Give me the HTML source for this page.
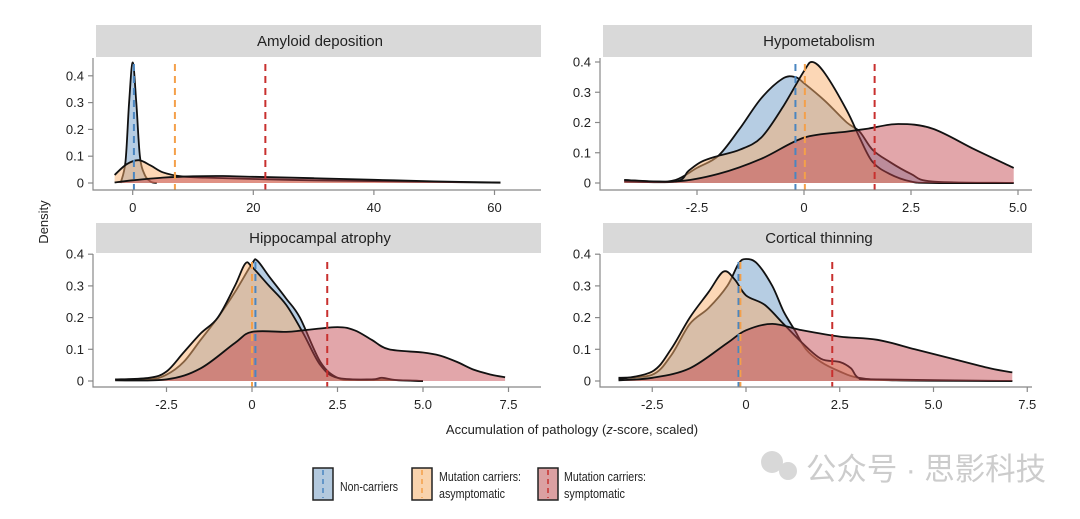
<!DOCTYPE html>
<html><head><meta charset="utf-8"><style>
body{margin:0;background:#fff;width:1080px;height:514px;overflow:hidden;font-family:"Liberation Sans","Noto Sans CJK SC",sans-serif}
svg text{font-family:"Liberation Sans","Noto Sans CJK SC",sans-serif}
</style></head><body>
<svg id="chart" width="1080" height="514" xmlns="http://www.w3.org/2000/svg">
<text x="48" y="222" font-size="13" fill="#222" text-anchor="middle" transform="rotate(-90 48 222)">Density</text>
<text x="572" y="434" font-size="13" fill="#222" text-anchor="middle">Accumulation of pathology (<tspan font-style="italic">z</tspan>-score, scaled)</text>
<g>
<g><rect x="313" y="468" width="20" height="32" fill="#b3c9de" stroke="#222" stroke-width="1.5"/><line x1="323" y1="470" x2="323" y2="498" stroke="#4a86c0" stroke-width="1.5" stroke-dasharray="5,4"/><text x="340" y="491" font-size="13" fill="#222" textLength="58" lengthAdjust="spacingAndGlyphs">Non-carriers</text></g>
<g><rect x="412" y="468" width="20" height="32" fill="#f9d3ad" stroke="#222" stroke-width="1.5"/><line x1="422" y1="470" x2="422" y2="498" stroke="#f4a04a" stroke-width="1.5" stroke-dasharray="5,4"/><text x="439" y="481" font-size="13" fill="#222" textLength="82" lengthAdjust="spacingAndGlyphs">Mutation carriers:</text><text x="439" y="498" font-size="13" fill="#222" textLength="66" lengthAdjust="spacingAndGlyphs">asymptomatic</text></g>
<g><rect x="538" y="468" width="20" height="32" fill="#dba0a2" stroke="#222" stroke-width="1.5"/><line x1="548" y1="470" x2="548" y2="498" stroke="#c8302e" stroke-width="1.5" stroke-dasharray="5,4"/><text x="564" y="481" font-size="13" fill="#222" textLength="82" lengthAdjust="spacingAndGlyphs">Mutation carriers:</text><text x="564" y="498" font-size="13" fill="#222" textLength="61" lengthAdjust="spacingAndGlyphs">symptomatic</text></g>
</g>
<g opacity="0.75">
<circle cx="772" cy="462" r="11" fill="#ccc"/><circle cx="788" cy="471" r="9" fill="#ccc"/>
<text x="806" y="480" font-size="31" fill="#bbb" textLength="240" lengthAdjust="spacingAndGlyphs">公众号 · 思影科技</text>
</g>
<g id="panels"></g>
</svg>
<script>
// ---------- data ----------
const amyX_non=[-2,-1.2,-0.6,0,0.6,1.2,2,3,4];
const amyY_non=[0,0.08,0.3,0.45,0.3,0.1,0.03,0.005,0];
const amyX_asy=[-3,-1,1,3,5,8,12,20,30,40,50,61];
const amyY_asy=[0.03,0.07,0.085,0.065,0.04,0.025,0.02,0.015,0.01,0.007,0.004,0.001];
const amyX_sym=[-3,0,5,10,15,20,30,40,50,61];
const amyY_sym=[0.002,0.01,0.02,0.025,0.026,0.023,0.018,0.012,0.006,0.002];
const amyMeans=[0.2,7,22];

const hypX_non=[-4.2,-3.5,-3,-2.5,-2,-1.5,-1,-0.5,-0.2,0,0.5,1,1.3,1.6,2,2.5,3,4.9];
const hypY_non=[0.01,0.005,0.01,0.05,0.09,0.18,0.28,0.345,0.35,0.33,0.27,0.2,0.17,0.11,0.07,0.03,0.005,0];
const hypX_asy=[-4.2,-3,-2.7,-2.4,-2,-1.5,-1,-0.5,0,0.2,0.5,1,1.3,1.6,2,2.5,3,4.9];
const hypY_asy=[0.005,0.005,0.04,0.07,0.09,0.11,0.15,0.25,0.37,0.4,0.36,0.24,0.15,0.07,0.03,0.005,0,0];
const hypX_sym=[-4.2,-3,-2,-1,0,1,1.5,2.2,3,4,4.9];
const hypY_sym=[0.01,0.005,0.03,0.08,0.15,0.17,0.18,0.195,0.18,0.11,0.05];
const hypMeans=[-0.2,0.02,1.65];

const hipX_non=[-4,-3,-2.5,-2,-1.5,-1,-0.5,0,0.15,0.5,1,1.4,2,2.5,3,4,5];
const hipY_non=[0.005,0.005,0.02,0.06,0.13,0.2,0.28,0.37,0.38,0.33,0.26,0.2,0.06,0.01,0.003,0.003,0];
const hipX_asy=[-4,-3,-2.5,-2,-1.5,-1,-0.5,-0.2,0,0.5,1,1.5,2,2.5,3.5,3.8,4.2,5];
const hipY_asy=[0.005,0.01,0.03,0.09,0.15,0.2,0.3,0.37,0.36,0.3,0.24,0.15,0.05,0.01,0.005,0.01,0.003,0];
const hipX_sym=[-4,-2.5,-1.5,-0.5,0,1,1.5,2.5,3,3.5,4,5,5.5,6,6.5,7,7.4];
const hipY_sym=[0.002,0.005,0.04,0.12,0.155,0.155,0.16,0.17,0.16,0.13,0.1,0.09,0.08,0.06,0.035,0.02,0.012];
const hipMeans=[0.1,0.0,2.2];

const corX_non=[-3.4,-2.5,-2,-1.5,-1,-0.5,-0.2,0,0.3,0.7,1,1.3,1.6,2,2.5,3,4,7.1];
const corY_non=[0.01,0.02,0.08,0.18,0.23,0.3,0.37,0.385,0.37,0.3,0.22,0.16,0.1,0.06,0.03,0.01,0.002,0];
const corX_asy=[-3.4,-2.5,-2,-1.5,-1,-0.6,-0.3,0,0.5,1,1.5,2,2.5,2.8,3,3.5,7.1];
const corY_asy=[0.005,0.03,0.1,0.2,0.28,0.345,0.32,0.27,0.24,0.18,0.12,0.07,0.06,0.04,0.01,0.005,0];
const corX_sym=[-3.4,-2.5,-1.5,-0.5,0,0.7,1.5,2.5,3.5,4.5,5.5,6.5,7.1];
const corY_sym=[0.002,0.01,0.04,0.12,0.16,0.18,0.16,0.14,0.13,0.1,0.07,0.04,0.027];
const corMeans=[-0.2,-0.15,2.3];

const amyTicksX=[0,20,40,60], hypTicksX=[-2.5,0,2.5,5.0], hipTicksX=[-2.5,0,2.5,5.0,7.5], corTicksX=[-2.5,0,2.5,5.0,7.5];
const amyTicksY=[0,0.1,0.2,0.3,0.4], hypTicksY=[0,0.1,0.2,0.3,0.4], hipTicksY=[0,0.1,0.2,0.3,0.4], corTicksY=[0,0.1,0.2,0.3,0.4];
const titles=["Amyloid deposition","Hypometabolism","Hippocampal atrophy","Cortical thinning"];

// ---------- layout ----------
const NS="http://www.w3.org/2000/svg";
const panels=[
 {key:"amyloid",t:titles[0],L:93,R:541,hT:25,hB:57,axY:190,y0:183,yPer:26.8,x0v:0,x0p:132.7,xPer:6.03,
  series:[[amyX_non,amyY_non],[amyX_asy,amyY_asy],[amyX_sym,amyY_sym]],means:amyMeans,tx:amyTicksX,ty:amyTicksY,dec:0,meanTop:64},
 {key:"hypometabolism",t:titles[1],L:600,R:1032,hT:25,hB:57,axY:190,y0:183,yPer:30.25,x0v:0,x0p:804,xPer:42.8,
  series:[[hypX_non,hypY_non],[hypX_asy,hypY_asy],[hypX_sym,hypY_sym]],means:hypMeans,tx:hypTicksX,ty:hypTicksY,dec:1,meanTop:64},
 {key:"hippocampal",t:titles[2],L:93,R:541,hT:223,hB:253,axY:387,y0:381,yPer:31.7,x0v:0,x0p:252,xPer:34.2,
  series:[[hipX_non,hipY_non],[hipX_asy,hipY_asy],[hipX_sym,hipY_sym]],means:hipMeans,tx:hipTicksX,ty:hipTicksY,dec:1,meanTop:262},
 {key:"cortical",t:titles[3],L:600,R:1032,hT:223,hB:253,axY:387,y0:381,yPer:31.7,x0v:0,x0p:746,xPer:37.5,
  series:[[corX_non,corY_non],[corX_asy,corY_asy],[corX_sym,corY_sym]],means:corMeans,tx:corTicksX,ty:corTicksY,dec:1,meanTop:262}
];
const fills=["rgba(110,155,200,0.5)","rgba(250,175,110,0.5)","rgba(195,70,78,0.48)"];
const meanCols=["#4a86c0","#f4a04a","#c8302e"];
const sNames=["non-carriers","asymptomatic","symptomatic"];
const root=document.getElementById("panels");
function mk(tag,attrs,parent){const e=document.createElementNS(NS,tag);for(const k in attrs)e.setAttribute(k,attrs[k]);parent.appendChild(e);return e;}
function smooth(pts){let d="M"+pts[0][0]+","+pts[0][1];for(let i=0;i<pts.length-1;i++){const p0=pts[Math.max(0,i-1)],p1=pts[i],p2=pts[i+1],p3=pts[Math.min(pts.length-1,i+2)];
 const c1=[p1[0]+(p2[0]-p0[0])/6,p1[1]+(p2[1]-p0[1])/6],c2=[p2[0]-(p3[0]-p1[0])/6,p2[1]-(p3[1]-p1[1])/6];
 d+=" C"+c1[0].toFixed(1)+","+c1[1].toFixed(1)+" "+c2[0].toFixed(1)+","+c2[1].toFixed(1)+" "+p2[0].toFixed(1)+","+p2[1].toFixed(1);}return d;}
panels.forEach(p=>{
 const g=mk("g",{},root);
 
 
 const xs=v=>p.x0p+(v-p.x0v)*p.xPer, ys=v=>p.y0-v*p.yPer*10;
 const hdr=mk("rect",{x:p.L+3,y:p.hT,width:p.R-p.L-3,height:p.hB-p.hT,fill:"#d9d9d9"},g);
 
 
 const ht=mk("text",{x:(p.L+p.R)/2+3,y:(p.hT+p.hB)/2+5,"font-size":15,fill:"#222","text-anchor":"middle"},g);ht.textContent=p.t;
 
 
 p.series.forEach((s,i)=>{
  const pts=s[0].map((v,j)=>[xs(v),ys(s[1][j])]);
  const line=smooth(pts);
  const area=mk("path",{d:line+" L"+pts[pts.length-1][0]+","+p.y0+" L"+pts[0][0]+","+p.y0+" Z",fill:fills[i],stroke:"none"},g);
  
  
  const ln=mk("path",{d:line,fill:"none",stroke:"#111","stroke-width":1.8,"stroke-linejoin":"round"},g);
  
  
 });
 p.means.forEach((m,i)=>{
  const ml=mk("line",{x1:xs(m),x2:xs(m),y1:p.meanTop,y2:p.axY,stroke:meanCols[i],"stroke-width":2,"stroke-dasharray":"7,5"},g);
  
  
 });
 const ax=mk("path",{d:`M${p.L},${p.hB+1} V${p.axY} H${p.R}`,fill:"none",stroke:"#888","stroke-width":1.2},g);
 
 
 p.ty.forEach(v=>{
  mk("line",{x1:p.L-5,x2:p.L,y1:ys(v),y2:ys(v),stroke:"#888","stroke-width":1.2},g);
  const t=mk("text",{x:p.L-9,y:ys(v)+4.5,"font-size":13,fill:"#222","text-anchor":"end"},g);
  t.textContent=v===0?"0":v.toFixed(1);
  
  
 });
 p.tx.forEach(v=>{
  mk("line",{x1:xs(v),x2:xs(v),y1:p.axY,y2:p.axY+5,stroke:"#888","stroke-width":1.2},g);
  const t=mk("text",{x:xs(v),y:p.axY+22,"font-size":13,fill:"#222","text-anchor":"middle"},g);
  t.textContent=v===0?"0":(p.dec?v.toFixed(1):String(v));
  
  
 });
});
</script>
</body></html>
